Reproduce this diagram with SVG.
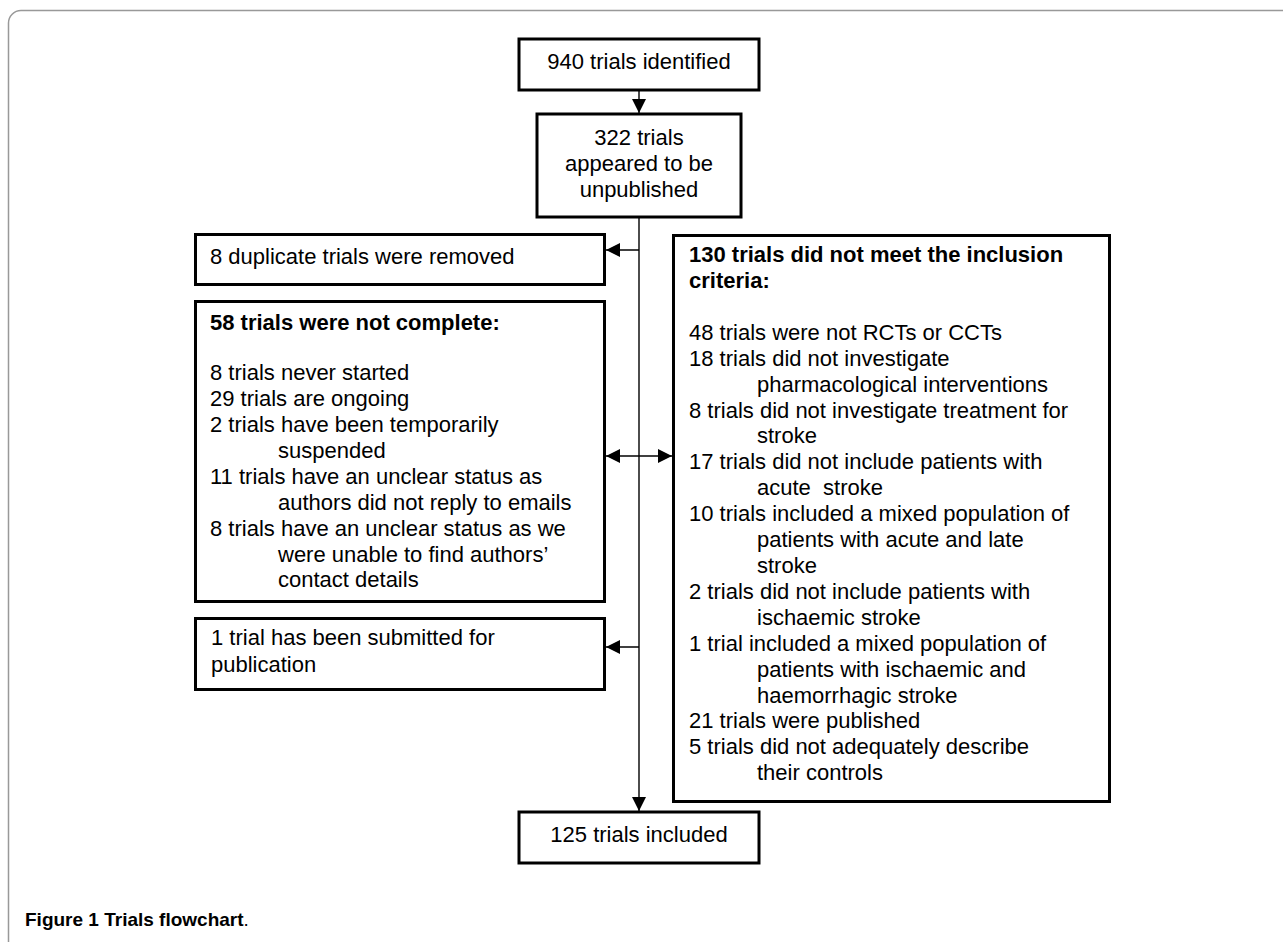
<svg xmlns="http://www.w3.org/2000/svg" width="1283" height="942" viewBox="0 0 1283 942">
<style>
.box{fill:#fff;stroke:#000;stroke-width:3}
.t{font-family:"Liberation Sans",Arial,sans-serif;font-size:22px;fill:#000;white-space:pre}
.c{text-anchor:middle}
.b{font-weight:bold}
.conn{stroke:#000;stroke-width:1.4;fill:none}
.frame{fill:none;stroke:#999;stroke-width:1.5}
.cap{font-family:"Liberation Sans",Arial,sans-serif;font-size:19px;fill:#000}
</style>
<defs>
<marker id="ah" viewBox="0 0 14 14" refX="14" refY="7" markerWidth="14" markerHeight="14" markerUnits="userSpaceOnUse" orient="auto-start-reverse">
<path d="M0,0 L14,7 L0,14 Z" fill="#000"/>
</marker>
</defs>
<rect width="1283" height="942" fill="#fff"/>
<path class="frame" d="M8.5 942 V23 A12.5 12.5 0 0 1 21 10.5 H1283"/>

<g id="connectors">
<line class="conn" x1="639" y1="90" x2="639" y2="113" marker-end="url(#ah)"/>
<line class="conn" x1="639" y1="218" x2="639" y2="811" marker-end="url(#ah)"/>
<line class="conn" x1="639" y1="250" x2="606" y2="250" marker-end="url(#ah)"/>
<line class="conn" x1="606" y1="456" x2="672" y2="456" marker-start="url(#ah)" marker-end="url(#ah)"/>
<line class="conn" x1="639" y1="647" x2="606" y2="647" marker-end="url(#ah)"/>
</g>

<g id="n940">
<rect class="box" x="519" y="39" width="240" height="51"/>
<text class="t c" x="639" y="69">940 trials identified</text>
</g>

<g id="n322">
<rect class="box" x="537" y="114" width="204" height="103"/>
<text class="t c" x="639" y="145">322 trials</text>
<text class="t c" x="639" y="171">appeared to be</text>
<text class="t c" x="639" y="197">unpublished</text>
</g>

<g id="duplicates">
<rect class="box" x="195.5" y="234.5" width="409" height="50"/>
<text class="t" x="210" y="264">8 duplicate trials were removed</text>
</g>

<g id="notcomplete">
<rect class="box" x="195.5" y="301.5" width="409" height="300"/>
<text class="t b" x="210" y="330">58 trials were not complete:</text>
<text class="t" x="210" y="380">8 trials never started</text>
<text class="t" x="210" y="406">29 trials are ongoing</text>
<text class="t" x="210" y="432">2 trials have been temporarily</text>
<text class="t" x="278" y="458">suspended</text>
<text class="t" x="210" y="484">11 trials have an unclear status as</text>
<text class="t" x="278" y="510">authors did not reply to emails</text>
<text class="t" x="210" y="536">8 trials have an unclear status as we</text>
<text class="t" x="278" y="562">were unable to find authors’</text>
<text class="t" x="278" y="587">contact details</text>
</g>

<g id="submitted">
<rect class="box" x="195.5" y="618.5" width="409" height="71"/>
<text class="t" x="211" y="645">1 trial has been submitted for</text>
<text class="t" x="211" y="672">publication</text>
</g>

<g id="excluded">
<rect class="box" x="673.5" y="235.5" width="436" height="566"/>
<text class="t b" x="689" y="262">130 trials did not meet the inclusion</text>
<text class="t b" x="689" y="288">criteria:</text>
<text class="t" x="689" y="340">48 trials were not RCTs or CCTs</text>
<text class="t" x="689" y="366">18 trials did not investigate</text>
<text class="t" x="757" y="392">pharmacological interventions</text>
<text class="t" x="689" y="418">8 trials did not investigate treatment for</text>
<text class="t" x="757" y="443">stroke</text>
<text class="t" x="689" y="469">17 trials did not include patients with</text>
<text class="t" x="757" y="495">acute  stroke</text>
<text class="t" x="689" y="521">10 trials included a mixed population of</text>
<text class="t" x="757" y="547">patients with acute and late</text>
<text class="t" x="757" y="573">stroke</text>
<text class="t" x="689" y="599">2 trials did not include patients with</text>
<text class="t" x="757" y="625">ischaemic stroke</text>
<text class="t" x="689" y="651">1 trial included a mixed population of</text>
<text class="t" x="757" y="677">patients with ischaemic and</text>
<text class="t" x="757" y="703">haemorrhagic stroke</text>
<text class="t" x="689" y="728">21 trials were published</text>
<text class="t" x="689" y="754">5 trials did not adequately describe</text>
<text class="t" x="757" y="780">their controls</text>
</g>

<g id="n125">
<rect class="box" x="519" y="812" width="240" height="51"/>
<text class="t c" x="639" y="842">125 trials included</text>
</g>

<text class="cap" x="25" y="926"><tspan font-weight="bold">Figure 1 Trials flowchart</tspan>.</text>
</svg>
